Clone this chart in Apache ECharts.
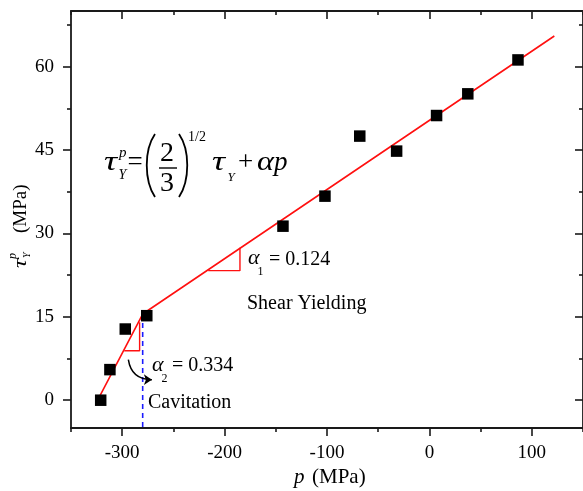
<!DOCTYPE html>
<html><head><meta charset="utf-8">
<script src="https://cdn.jsdelivr.net/npm/echarts@6/dist/echarts.min.js"></script>
<style>html,body{margin:0;padding:0;background:#fff}#c{width:583px;height:491px}</style>
</head><body><div id="c"></div>
<script>
// measured data (p in MPa, tau_Y^p in MPa)
const pValues   = [-321, -312, -297, -276, -143, -102, -68, -32, 7, 37.5, 86.5];
const tauValues = [0, 5.5, 12.8, 15.2, 31.3, 36.7, 47.5, 44.8, 51.2, 55.1, 61.2];
// bilinear fit (cavitation branch + shear-yielding branch)
const fitP   = [-326, -280, 122];
const fitTau = [-0.7, 15.5, 65.5];
// cavitation boundary
const boundaryP   = [-280, -280];
const boundaryTau = [15.5, -5];
// slope triangles
const tri1P   = [-216, -185, -185];
const tri1Tau = [23.3, 23.3, 27.4];
const tri2P   = [-298, -283, -283];
const tri2Tau = [8.9, 8.9, 14.0];
// curved arrow
const arrowP   = [-294, -271];
const arrowTau = [7.3, 3.7];
// ticks
const xMajorTicks = [-300, -200, -100, 0, 100];
const xMinorTicks = [-350, -250, -150, -50, 50, 150];
const yMajorTicks = [0, 15, 30, 45, 60];
const yMinorTicks = [7.5, 22.5, 37.5, 52.5, 67.5];

const zip = (a, b) => a.map((v, i) => [v, b[i]]);
const FONT = '"Liberation Serif", "Times New Roman", serif';
const AX = '#1a1a1a';

function makeAxis(isX, position, ticks, len, inside, showLine, showLabels) {
  return {
    type: 'value', position: position,
    min: isX ? -350 : -5, max: isX ? 150 : 70, interval: isX ? 50 : 2.5,
    axisLine: { show: showLine, onZero: false, lineStyle: { color: AX, width: 1.8 } },
    axisTick: { show: true, inside: inside, length: len, customValues: ticks, lineStyle: { color: AX, width: 1.6 } },
    axisLabel: { show: showLabels, customValues: ticks, color: '#000', fontFamily: FONT, fontSize: 19, margin: isX ? 16 : 17 },
    splitLine: { show: false }
  };
}

const chart = echarts.init(document.getElementById('c'), null, { renderer: 'canvas' });

function T(x, baseline, text, size, italic, align, sx) {
  return {
    type: 'text', x: x, y: baseline - 0.34 * size, silent: true, scaleX: sx || 1,
    style: { text: text, font: (italic ? 'italic ' : '') + size + 'px ' + FONT, fill: '#000',
             align: align || 'left', verticalAlign: 'middle' }
  };
}

const option = {
  animation: false,
  grid: { left: 71, top: 11, width: 514, height: 417, containLabel: false },
  xAxis: [
    makeAxis(true, 'bottom', xMajorTicks, 8, false, true, true),
    makeAxis(true, 'bottom', xMinorTicks, 4, false, false, false),
    makeAxis(true, 'top', xMajorTicks, 8, true, true, false),
    makeAxis(true, 'top', xMinorTicks, 4, true, false, false)
  ],
  yAxis: [
    makeAxis(false, 'left', yMajorTicks, 8, false, true, true),
    makeAxis(false, 'left', yMinorTicks, 4, false, false, false),
    makeAxis(false, 'right', yMajorTicks, 8, true, true, false),
    makeAxis(false, 'right', yMinorTicks, 4, true, false, false)
  ],
  series: [
    { type: 'line', data: zip(fitP, fitTau), xAxisIndex: 0, yAxisIndex: 0, showSymbol: false, symbol: 'none',
      lineStyle: { color: '#ff1010', width: 1.6 }, z: 3 },
    { type: 'line', data: zip(boundaryP, boundaryTau), xAxisIndex: 0, yAxisIndex: 0, symbol: 'none',
      lineStyle: { color: '#1a1aff', width: 1.6, type: [5, 4] }, z: 2 },
    { type: 'line', data: zip(tri1P, tri1Tau), xAxisIndex: 0, yAxisIndex: 0, symbol: 'none',
      lineStyle: { color: '#ff1010', width: 1.4 }, z: 3 },
    { type: 'line', data: zip(tri2P, tri2Tau), xAxisIndex: 0, yAxisIndex: 0, symbol: 'none',
      lineStyle: { color: '#ff1010', width: 1.4 }, z: 3 },
    { type: 'lines', coordinateSystem: 'cartesian2d', xAxisIndex: 0, yAxisIndex: 0,
      symbol: ['none', 'arrow'], symbolSize: 8,
      lineStyle: { color: '#000', width: 1.5, curveness: -0.43, opacity: 1 },
      data: [{ coords: zip(arrowP, arrowTau) }], z: 4 },
    { type: 'scatter', data: zip(pValues, tauValues), xAxisIndex: 0, yAxisIndex: 0,
      symbol: 'rect', symbolSize: 11.5, itemStyle: { color: '#000', opacity: 1 }, z: 5 }
  ],
  graphic: [
    // formula
    T(104, 172, 'τ', 27, true, 'left', 1.35),
    T(119, 158, 'p', 15, true),
    T(118.5, 180, 'Y', 14, true),
    T(127.5, 172, '=', 27, false),
    { type: 'bezierCurve', silent: true, shape: { x1: 155, y1: 134, cpx1: 144, cpy1: 150, cpx2: 144, cpy2: 180, x2: 155, y2: 197 },
      style: { stroke: '#000', lineWidth: 1.8, fill: null } },
    T(167, 163, '2', 28, false, 'center'),
    { type: 'line', silent: true, shape: { x1: 159, y1: 168, x2: 177, y2: 168 }, style: { stroke: '#000', lineWidth: 1.4 } },
    T(167, 193, '3', 28, false, 'center'),
    { type: 'bezierCurve', silent: true, shape: { x1: 179, y1: 134, cpx1: 190, cpy1: 150, cpx2: 190, cpy2: 180, x2: 179, y2: 197 },
      style: { stroke: '#000', lineWidth: 1.8, fill: null } },
    T(188, 142, '1/2', 14, false),
    T(212, 172, 'τ', 27, true, 'left', 1.35),
    T(227.5, 182, 'Y', 13, true),
    T(238, 172, '+', 27, false),
    T(257, 172, 'α', 27, true, 'left', 1.2),
    T(274, 172, 'p', 27, true),
    // alpha1
    T(248, 266, 'α', 20, true, 'left', 1.1),
    T(257.5, 276, '1', 12, false),
    T(269, 267, '= 0.124', 20, false),
    T(247, 311, 'Shear Yielding', 20, false),
    // alpha2
    T(152, 373, 'α', 20, true, 'left', 1.1),
    T(161.5, 383, '2', 12, false),
    T(172, 373, '= 0.334', 20, false),
    T(148, 410, 'Cavitation', 20, false),
    // x title
    T(294, 485, 'p', 21, true),
    T(312, 485, '(MPa)', 21, false),
    // y title (rotated)
    { type: 'group', x: 27, y: 268, rotation: Math.PI / 2, children: [
      T(0, 0, 'τ', 19, true, 'left', 1.3),
      T(10, 3.5, 'Y', 10, true),
      T(9, -10, 'p', 12, true),
      T(35, 0, '(MPa)', 19, false)
    ] }
  ]
};
chart.setOption(option);
</script>
</body></html>
